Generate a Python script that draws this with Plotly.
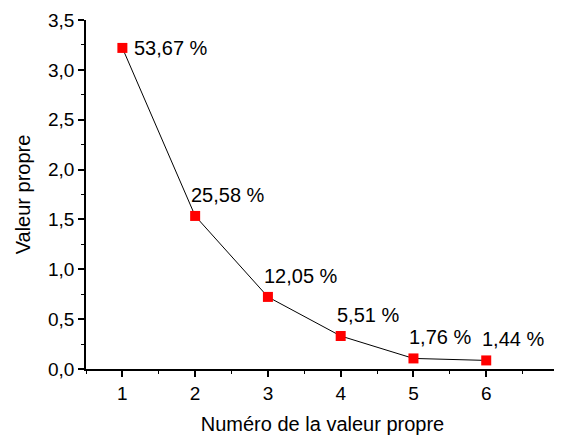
import plotly.graph_objects as go

# valeurs propres (ACP) et part de variance expliquée
numeros = [1, 2, 3, 4, 5, 6]
valeurs = [3.22, 1.535, 0.723, 0.331, 0.106, 0.086]
pourcentages = ["53,67 %", "25,58 %", "12,05 %", "5,51 %", "1,76 %", "1,44 %"]

x_ticks = [1, 2, 3, 4, 5, 6, 7]
y_ticks = [0, 0.5, 1.0, 1.5, 2.0, 2.5, 3.0, 3.5]

fig = go.Figure()

fig.add_trace(
    go.Scatter(
        x=numeros,
        y=valeurs,
        mode="lines+markers",
        line=dict(color="black", width=1),
        marker=dict(symbol="square", size=10, color="#ff0000"),
        showlegend=False,
        cliponaxis=False
    )
)

# étiquettes de pourcentage
for i, (xv, yv, txt) in enumerate(zip(numeros, valeurs, pourcentages)):
    if i == 0:
        xs, ys = 10, 0
    else:
        xs, ys = -6, 21
    fig.add_annotation(
        x=xv, y=yv, text=txt,
        showarrow=False,
        xanchor="left", yanchor="middle",
        xshift=xs, yshift=ys,
        font=dict(size=20, color="black")
    )

axis_common = dict(
    showgrid=False,
    zeroline=False,
    showline=True,
    linecolor="black",
    linewidth=1.5,
    ticks="outside",
    ticklen=6,
    tickwidth=1.5,
    tickcolor="black",
    tickfont=dict(size=19, color="black"),
    automargin=False,
    ticklabeloverflow="allow",
)

fig.update_xaxes(
    range=[0.5, 7],
    tickvals=x_ticks,
    minor=dict(dtick=0.5, ticks="outside", ticklen=3, tickcolor="black", tickwidth=1),
    title=dict(text="Numéro de la valeur propre", font=dict(size=20, color="black"), standoff=14),
    **axis_common
)

fig.update_yaxes(
    range=[0, 3.5],
    tickvals=y_ticks,
    tickformat=".1f",
    minor=dict(dtick=0.25, ticks="outside", ticklen=3, tickcolor="black", tickwidth=1),
    title=dict(text="Valeur propre", font=dict(size=20, color="black"), standoff=12),
    **axis_common
)

# la page ajoute une marge de 8 px autour du graphique
fig.update_layout(
    width=554,
    height=431,
    separators=", ",
    font=dict(family="Liberation Sans, Arial, sans-serif", color="black"),
    plot_bgcolor="white",
    paper_bgcolor="white",
    margin=dict(l=78, r=3, t=12, b=70)
)

fig.write_html("out.html")
